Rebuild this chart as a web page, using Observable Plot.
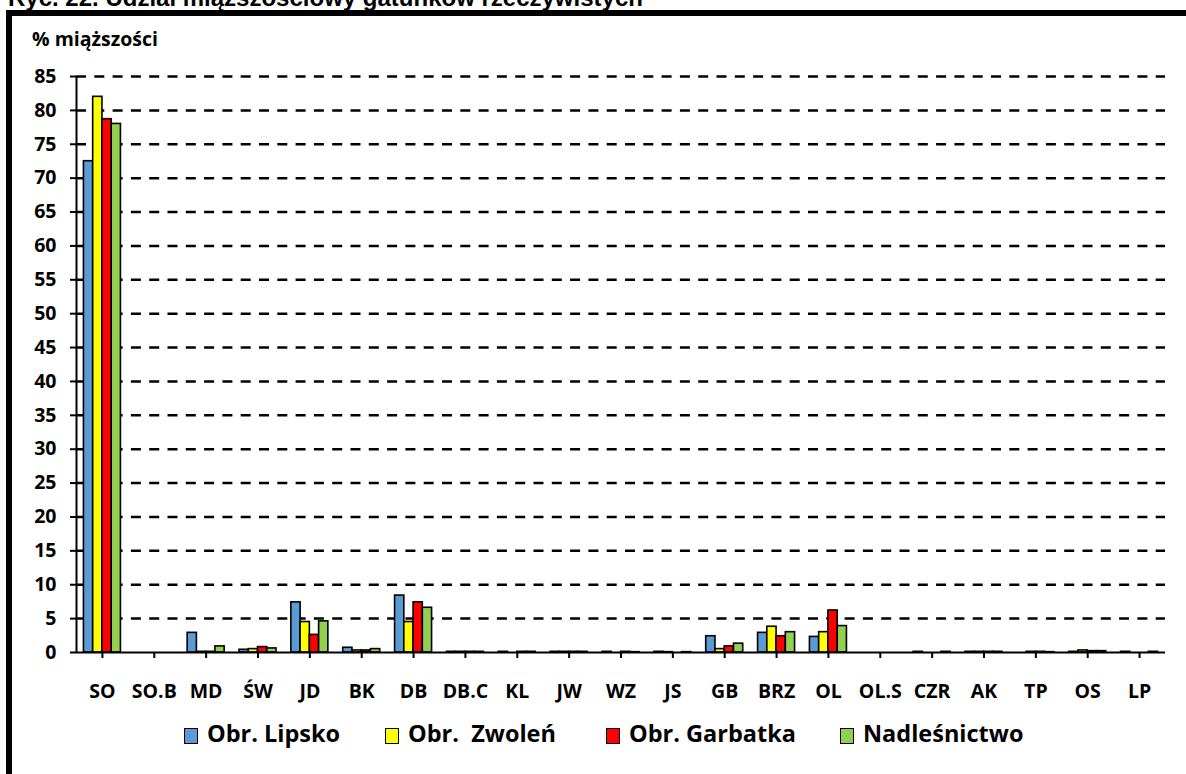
<!DOCTYPE html>
<html>
<head>
<meta charset="utf-8">
<script src="https://cdn.jsdelivr.net/npm/d3@7"></script>
<script src="https://cdn.jsdelivr.net/npm/@observablehq/plot@0.6"></script>
<style>
  html, body { margin: 0; padding: 0; background: #fff; }
  body { width: 1186px; height: 774px; overflow: hidden; position: relative; }
  #title { position: absolute; left: 8px; top: -14px; font: bold 24px "Liberation Sans", Arial, sans-serif; line-height: 24px; white-space: pre; color: #000; }
  #frame { position: absolute; left: 6px; top: 9.5px; width: 2000px; height: 2000px; border-left: 6.5px solid #000; border-top: 6.5px solid #000; }
  #chart { position: absolute; left: 0; top: 0; }
  #ylabel { position: absolute; left: 32px; top: 29px; font: bold 19.5px "Open Sans", sans-serif; line-height: 19.5px; color: #000; white-space: pre; }
  .leg { position: absolute; top: 721px; display: flex; align-items: center; height: 24px; font: bold 23.5px "Open Sans", sans-serif; line-height: 24px; color: #000; white-space: pre; }
  .sw { width: 12px; height: 14px; border: 1.5px solid #000; margin-right: 9px; margin-top: 5px; }
</style>
</head>
<body>
<div id="title">Ryc. 22. Udział miąższościowy gatunków rzeczywistych</div>
<div id="frame"></div>
<div id="chart"></div>
<div id="ylabel">% miąższości</div>
<div id="legend"></div>
<script>
const categories = ["SO","SO.B","MD","ŚW","JD","BK","DB","DB.C","KL","JW","WZ","JS","GB","BRZ","OL","OL.S","CZR","AK","TP","OS","LP"];
const seriesNames = ["Obr. Lipsko","Obr.  Zwoleń","Obr. Garbatka","Nadleśnictwo"];
const seriesColors = ["#5B9BD5","#FFFF00","#FF0000","#92D050"];
const lipsko   = [72.5,0,2.9,0.4,7.4,0.7,8.4,0.1,0.1,0.1,0.1,0.1,2.4,2.9,2.3,0,0.1,0.1,0,0.1,0.1];
const zwolen   = [82.0,0,0.1,0.5,4.5,0.3,4.5,0.1,0,0.1,0,0.05,0.5,3.8,3.0,0,0,0.1,0.1,0.3,0];
const garbatka = [78.7,0,0.1,0.8,2.6,0.3,7.4,0.1,0.1,0.1,0.1,0,0.9,2.4,6.2,0,0,0.1,0.1,0.2,0];
const nadlesn  = [78.0,0,0.9,0.6,4.6,0.5,6.6,0.1,0.1,0.1,0.05,0.05,1.3,3.0,3.9,0,0.1,0.1,0.05,0.2,0.1];
const yTicks = [0,5,10,15,20,25,30,35,40,45,50,55,60,65,70,75,80,85];
const gridTicks = [5,10,15,20,25,30,35,40,45,50,55,60,65,70,75,80,85];

const seriesValues = [lipsko, zwolen, garbatka, nadlesn];

const W = 1186, H = 710, ML = 76, MR = 21, MT = 76, MB = 58;
const bw = (W - ML - MR) / categories.length;
const barW = 9.25;

const barMarks = seriesValues.map((vals, i) => {
  const data = categories.map((c, j) => ({cat: c, v: vals[j]}));
  const inL = bw / 2 - 2 * barW + i * barW;
  const inR = bw - inL - barW;
  return Plot.barY(data, {x: "cat", y: "v", fill: seriesColors[i], stroke: "#000", strokeWidth: 1.6, insetLeft: inL, insetRight: inR});
});

const font = {fontFamily: "Open Sans", fontWeight: "bold", fontSize: 19.5};

const chart = Plot.plot({
  width: W, height: H,
  marginLeft: ML, marginRight: MR, marginTop: MT, marginBottom: MB,
  style: {color: "#000", background: "transparent", overflow: "visible"},
  x: {domain: categories, padding: 0, round: false},
  y: {domain: [0, 85]},
  marks: [
    Plot.ruleY(gridTicks, {stroke: "#000", strokeWidth: 2.5, strokeDasharray: "10,8.3"}),
    ...barMarks,
    Plot.ruleY([0], {stroke: "#000", strokeWidth: 2}),
    Plot.ruleX([categories[0]], {dx: -bw / 2, stroke: "#000", strokeWidth: 2}),
    Plot.axisY({ticks: yTicks, tickSize: 6, tickPadding: 14, strokeWidth: 2, label: null, ...font}),
    Plot.axisX({tickSize: 6, tickPadding: 26, strokeWidth: 2, label: null, ...font})
  ]
});
document.getElementById("chart").appendChild(chart);

const legendLefts = [184, 385, 606, 840];
const legend = document.getElementById("legend");
seriesNames.forEach((name, i) => {
  const item = document.createElement("div");
  item.className = "leg";
  item.style.left = legendLefts[i] + "px";
  const sw = document.createElement("div");
  sw.className = "sw";
  sw.style.background = seriesColors[i];
  const t = document.createElement("span");
  t.textContent = name;
  item.appendChild(sw);
  item.appendChild(t);
  legend.appendChild(item);
});
</script>
</body>
</html>
